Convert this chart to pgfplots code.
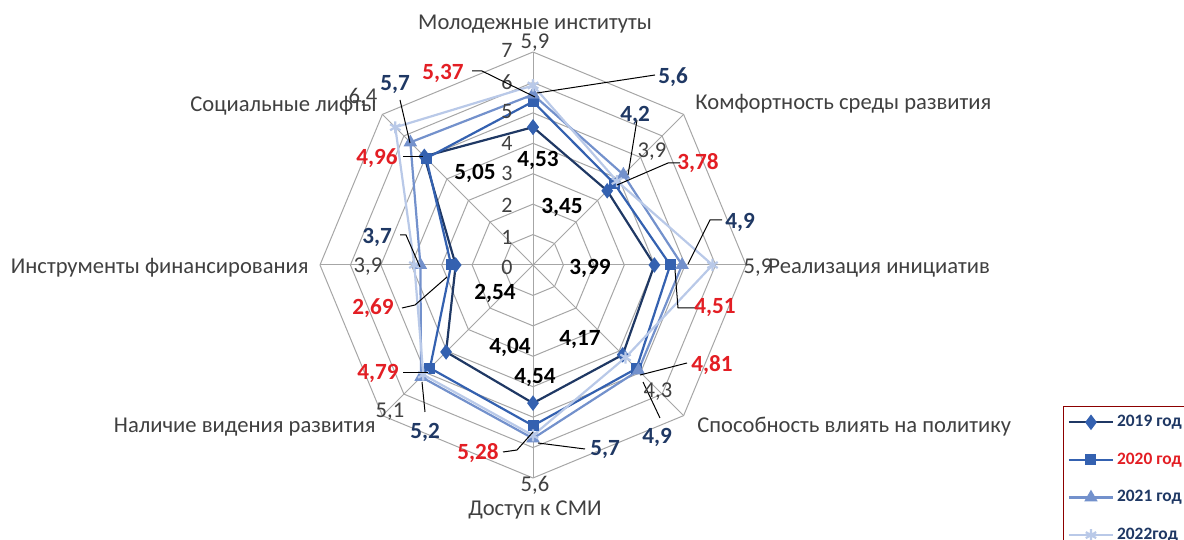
\documentclass[border=0pt]{standalone}
\usepackage{fontspec}
\setmainfont{Carlito}
\usepackage{pgfplots}
\pgfplotsset{compat=1.18}
\usepgfplotslibrary{polar}

\definecolor{gridc}{HTML}{A6A6A6}
\definecolor{c19}{HTML}{1F3864}
\definecolor{c20}{HTML}{3461B0}
\definecolor{c21}{HTML}{7391CC}
\definecolor{c22}{HTML}{B9C9E8}
\definecolor{navy}{HTML}{1F3864}
\definecolor{lred}{HTML}{E31E24}
\definecolor{txt}{HTML}{404040}

\tikzset{
  cat/.style={font=\fontsize{11.3}{13}\selectfont, text=txt, inner sep=0pt},
  tk/.style={font=\fontsize{11}{13}\selectfont, text=txt, inner sep=0pt},
  b19/.style={font=\bfseries\fontsize{11.6}{13}\selectfont, text=black, inner sep=0pt},
  b20/.style={font=\bfseries\fontsize{11.6}{13}\selectfont, text=lred, inner sep=0pt},
  b21/.style={font=\bfseries\fontsize{11.6}{13}\selectfont, text=navy, inner sep=0pt},
  b22/.style={font=\fontsize{11.3}{13}\selectfont, text=txt, inner sep=0pt},
  ld/.style={black, line width=0.5pt},
}

\begin{document}
\begin{tikzpicture}
\path[use as bounding box] (0,0) rectangle (592pt,270pt);

\begin{polaraxis}[
    at={(266.5pt,137.5pt)}, anchor=center,
    width=213pt, height=213pt, scale only axis,
    xmin=0, xmax=360, ymin=0, ymax=7,
    hide axis, clip=false,
    legend style={
        at={(1.745,0.170)}, anchor=north west,
        draw=red!55!black, line width=0.5pt, fill=white,
        font=\bfseries\fontsize{8.7}{10}\selectfont,
        row sep=7.6pt, inner xsep=2pt, inner ysep=2.5pt,
        nodes={inner xsep=1.5pt},
        cells={anchor=west},
    },
    legend image code/.code={
        \draw[mark repeat=2,mark phase=2,#1]
        plot coordinates {(0pt,0pt)(11pt,0pt)(22pt,0pt)};
    },
]
% octagonal grid
\pgfplotsinvokeforeach{1,...,7}{
  \addplot[gridc, line width=0.5pt, no marks, forget plot]
    coordinates {(90,#1)(45,#1)(0,#1)(-45,#1)(-90,#1)(-135,#1)(180,#1)(135,#1)(90,#1)};
}
% spokes
\pgfplotsinvokeforeach{0,45,...,315}{
  \addplot[gridc, line width=0.5pt, no marks, forget plot] coordinates {(#1,0)(#1,7)};
}

% 2019
\addplot[c19, line width=1.1pt, mark=diamond*, mark size=3pt, mark options={fill=c20, draw=c20}]
  coordinates {(90,4.53)(45,3.45)(0,3.99)(-45,4.17)(-90,4.54)(-135,4.04)(180,2.54)(135,5.05)(90,4.53)};
\addlegendentry{\textcolor{navy}{2019 год}}

% 2020
\addplot[c20, line width=1.1pt, mark=square*, mark size=2.2pt, mark options={fill=c20}]
  coordinates {(90,5.37)(45,3.78)(0,4.51)(-45,4.81)(-90,5.28)(-135,4.79)(180,2.69)(135,4.96)(90,5.37)};
\addlegendentry{\textcolor{lred}{2020 год}}

% 2021
\addplot[c21, line width=1.1pt, mark=triangle*, mark size=2.8pt, mark options={fill=c21}]
  coordinates {(90,5.6)(45,4.2)(0,4.9)(-45,4.9)(-90,5.7)(-135,5.2)(180,3.7)(135,5.7)(90,5.6)};
\addlegendentry{\textcolor{navy}{2021 год}}

% 2022
\addplot[c22, line width=1.1pt, mark=asterisk, mark size=3pt, mark options={c22}]
  coordinates {(90,5.9)(45,3.9)(0,5.9)(-45,4.3)(-90,5.6)(-135,5.1)(180,3.9)(135,6.4)(90,5.9)};
\addlegendentry{\textcolor{navy}{2022год}}
\end{polaraxis}

\begin{scope}[x=0.5pt, y=-0.5pt, yshift=270pt]
% category names
\node[cat] at (535,24) {Молодежные институты};
\node[cat, anchor=west] at (695,104) {Комфортность среды развития};
\node[cat, anchor=west] at (768,268) {Реализация инициатив};
\node[cat, anchor=west] at (697,427) {Способность влиять на политику};
\node[cat] at (535,510) {Доступ к СМИ};
\node[cat, anchor=east] at (376,427) {Наличие видения развития};
\node[cat, anchor=east] at (309,268) {Инструменты финансирования};
\node[cat, anchor=east] at (377,106) {Социальные лифты};

% radial tick labels
\foreach \v/\yy in {0/267,1/237,2/205,3/173,4/143,5/112,6/82,7/50}
  \node[tk] at (507,\yy) {\v};

% leader lines
\draw[ld] (472,71) -- (482,71) -- (535,97);
\draw[ld] (655,75) -- (537,93);
\draw[ld] (400,100) -- (410,143);
\draw[ld] (403,157) -- (423,157);
\draw[ld] (637,120) -- (628,175);
\draw[ld] (680,163) -- (668,163) -- (617,185);
\draw[ld] (400,235) -- (406,235) -- (420,267);
\draw[ld] (722,220) -- (710,220) -- (688,264);
\draw[ld] (695,308) -- (678,308) -- (675,270);
\draw[ld] (402,308) -- (415,305) -- (447,277);
\draw[ld] (403,373) -- (428,373);
\draw[ld] (425,412) -- (422,382);
\draw[ld] (503,452) -- (517,450) -- (533,432);
\draw[ld] (585,449) -- (538,443);
\draw[ld] (687,363) -- (640,375);
\draw[ld] (660,418) -- (643,382);

% 2019 labels
\node[b19] at (538,160) {4,53};
\node[b19] at (562,207) {3,45};
\node[b19] at (590,268) {3,99};
\node[b19] at (580,340) {4,17};
\node[b19] at (535,378) {4,54};
\node[b19] at (510,347) {4,04};
\node[b19] at (495,293) {2,54};
\node[b19] at (475,173) {5,05};
% 2020 labels
\node[b20] at (443,73) {5,37};
\node[b20] at (698,163) {3,78};
\node[b20] at (715,308) {4,51};
\node[b20] at (712,365) {4,81};
\node[b20] at (478,453) {5,28};
\node[b20] at (378,373) {4,79};
\node[b20] at (373,308) {2,69};
\node[b20] at (377,158) {4,96};
% 2021 labels
\node[b21] at (673,77) {5,6};
\node[b21] at (635,115) {4,2};
\node[b21] at (740,222) {4,9};
\node[b21] at (657,437) {4,9};
\node[b21] at (605,450) {5,7};
\node[b21] at (425,432) {5,2};
\node[b21] at (377,237) {3,7};
\node[b21] at (395,85) {5,7};
% 2022 labels
\node[b22] at (535,43) {5,9};
\node[b22] at (652,152) {3,9};
\node[b22] at (758,268) {5,9};
\node[b22] at (658,392) {4,3};
\node[b22] at (535,485) {5,6};
\node[b22] at (390,412) {5,1};
\node[b22] at (368,267) {3,9};
\node[b22] at (363,97) {6,4};
\end{scope}
\end{tikzpicture}
\end{document}
